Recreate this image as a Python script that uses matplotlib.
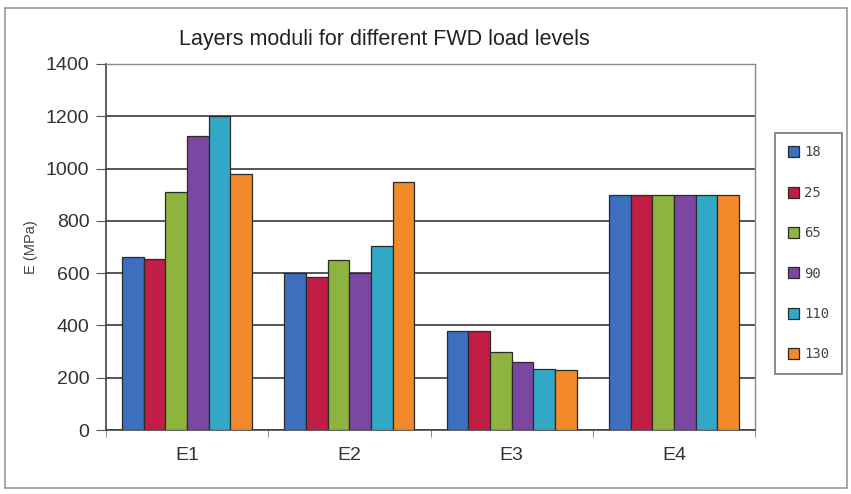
import matplotlib
matplotlib.use("Agg")
import matplotlib.pyplot as plt
import numpy as np
from matplotlib.patches import Rectangle

plt.rcParams['font.family'] = ['Liberation Sans', 'DejaVu Sans']

categories = ["E1", "E2", "E3", "E4"]
load_levels = ["18", "25", "65", "90", "110", "130"]
values = {
    "18":  [662, 600, 380, 900],
    "25":  [655, 585, 380, 900],
    "65":  [910, 652, 300, 900],
    "90":  [1125, 600, 260, 900],
    "110": [1200, 702, 235, 900],
    "130": [978, 950, 230, 900],
}
colors = ["#3c6fbd", "#c01e45", "#8db43e", "#7b47a3", "#33a7c6", "#f28a2c"]
yticks = [0, 200, 400, 600, 800, 1000, 1200, 1400]

fig = plt.figure(figsize=(8.51, 4.94), dpi=100)
fig.patch.set_facecolor("white")
ax = fig.add_axes([106/851, 64/494, 649/851, 366/494])

x = np.arange(len(categories))
n = len(load_levels)
group_w = 0.80
bw = group_w / n
handles = []
for i, lvl in enumerate(load_levels):
    off = -group_w/2 + bw*(i + 0.5)
    b = ax.bar(x + off, values[lvl], width=bw, color=colors[i],
               edgecolor="#2a2a2a", linewidth=0.9, zorder=3, label=lvl)
    handles.append(b)

ax.set_xlim(-0.5, len(categories) - 0.5)
ax.set_ylim(0, 1400)
ax.set_yticks(yticks)
ax.set_yticklabels([str(v) for v in yticks], fontsize=14, color="#333333")
ax.yaxis.grid(True, color="#555555", linewidth=1.4, zorder=0)
ax.set_xticks(x)
ax.set_xticklabels(categories, fontsize=14, color="#333333")
ax.tick_params(axis="x", length=0, pad=12)
ax.set_xticks(np.arange(len(categories) + 1) - 0.5, minor=True)
ax.tick_params(axis="x", which="minor", length=5, color="#777777")
ax.tick_params(axis="y", length=7, color="#555555", pad=5)
for s in ["top", "right"]:
    ax.spines[s].set_color("#888888")
    ax.spines[s].set_linewidth(1.0)
ax.spines["left"].set_color("#444444")
ax.spines["bottom"].set_color("#444444")
ax.spines["left"].set_linewidth(1.2)
ax.spines["bottom"].set_linewidth(1.2)

ax.set_ylabel("E (MPa)", fontsize=10.5, color="#444444")
ax.yaxis.set_label_coords((38 - 106) / 649, 0.5)

fig.text(384/851, 1 - 39/494, "Layers moduli for different FWD load levels",
         ha="center", va="center", fontsize=15.5, color="#222222")

leg = fig.legend(handles=handles, labels=load_levels, loc="upper left",
                 bbox_to_anchor=(775/851, 1 - 133/494), borderaxespad=0,
                 frameon=True, labelspacing=1.9, handlelength=0.85,
                 handleheight=0.85, handletextpad=0.35, borderpad=0.9,
                 fancybox=False, edgecolor="#555555",
                 prop={"family": "DejaVu Sans Mono", "size": 10})
leg.get_frame().set_linewidth(1.2)
for t in leg.get_texts():
    t.set_color("#444444")

# outer chart border
fig.patches.append(Rectangle((5/851, 6/494), 842/851, 480/494,
                             transform=fig.transFigure, fill=False,
                             edgecolor="#999999", linewidth=1.2))

fig.savefig("out.png", dpi=100, facecolor="white")
